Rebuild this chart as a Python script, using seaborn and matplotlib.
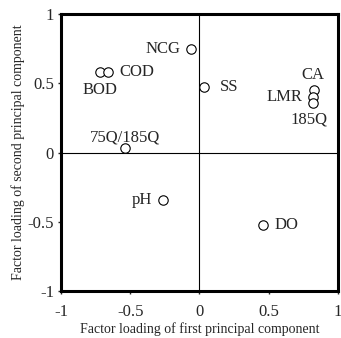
import matplotlib
matplotlib.use("Agg")
import matplotlib.pyplot as plt
import seaborn as sns
import pandas as pd

variables = ["NCG", "BOD", "COD", "SS", "CA", "LMR", "185Q", "75Q/185Q", "pH", "DO"]
pc1 = [-0.06, -0.72, -0.66, 0.03, 0.83, 0.82, 0.82, -0.54, -0.26, 0.46]
pc2 = [0.75, 0.58, 0.58, 0.47, 0.45, 0.40, 0.36, 0.03, -0.345, -0.52]
# label offsets (points) and alignment per variable
label_dx = [-8, 0, 8, 12, -1, -8, -3, 0, -8, 8]
label_dy = [0, -13, 0, 0, 11, 0, -12, 8, 0, 0]
label_ha = ["right", "center", "left", "left", "center", "right", "center", "center", "right", "left"]

df = pd.DataFrame({"var": variables, "pc1": pc1, "pc2": pc2})

sns.set_style("white")
plt.rcParams["font.family"] = ["Liberation Serif", "DejaVu Serif"]

fig = plt.figure(figsize=(3.41, 3.38), dpi=100)
ax = fig.add_axes([0.179, 0.139, 0.812, 0.8195])

ax.axhline(0, color="black", lw=0.8, zorder=1)
ax.axvline(0, color="black", lw=0.8, zorder=1)

sns.scatterplot(data=df, x="pc1", y="pc2", ax=ax, s=46, facecolor="white",
                edgecolor="black", linewidth=0.8, zorder=3)

for v, x, y, dx, dy, ha in zip(variables, pc1, pc2, label_dx, label_dy, label_ha):
    ax.annotate(v, (x, y), xytext=(dx, dy), textcoords="offset points",
                ha=ha, va="center", fontsize=12)

ax.set_xlim(-1, 1)
ax.set_ylim(-1, 1)
ax.set_xticks([-1, -0.5, 0, 0.5, 1])
ax.set_yticks([-1, -0.5, 0, 0.5, 1])
ax.set_xticklabels(["-1", "-0.5", "0", "0.5", "1"])
ax.set_yticklabels(["-1", "-0.5", "0", "0.5", "1"])
ax.tick_params(axis="both", direction="out", length=2, width=1, labelsize=12,
               bottom=True, left=True)
ax.tick_params(axis="x", pad=7)
ax.tick_params(axis="y", pad=3)
for sp in ax.spines.values():
    sp.set_linewidth(2.2)
    sp.set_color("black")

ax.set_xlabel("Factor loading of first principal component", fontsize=10, labelpad=2)
ax.set_ylabel("Factor loading of second principal component", fontsize=10, labelpad=2)

fig.savefig("out.png", dpi=100)
